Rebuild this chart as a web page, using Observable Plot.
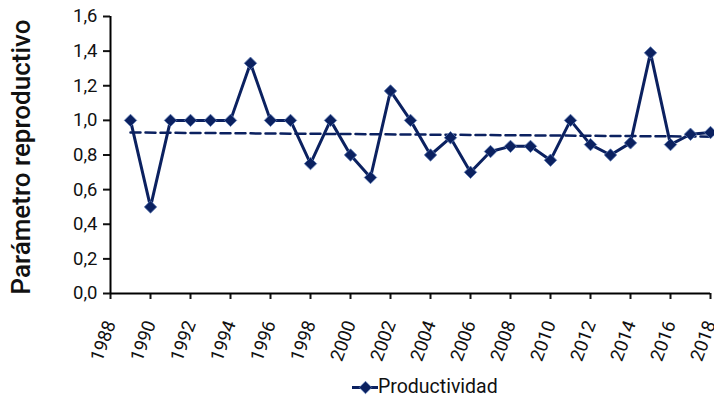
<!DOCTYPE html>
<html>
<head>
<meta charset="utf-8">
<script src="https://cdn.jsdelivr.net/npm/d3@7"></script>
<script src="https://cdn.jsdelivr.net/npm/@observablehq/plot@0.6"></script>
<style>
  body { margin: 0; background: #fff; font-family: Roboto, "DejaVu Sans", sans-serif; }
  #chart { position: relative; width: 714px; height: 399px; overflow: hidden; }
  #legend { position: absolute; left: 352px; top: 375px; display: flex; align-items: center; font-size: 19.5px; color: #111; }
</style>
</head>
<body>
<div id="chart"></div>
<script>
const years = [1989,1990,1991,1992,1993,1994,1995,1996,1997,1998,1999,2000,2001,2002,2003,2004,2005,2006,2007,2008,2009,2010,2011,2012,2013,2014,2015,2016,2017,2018];
const productividad = [1.0,0.5,1.0,1.0,1.0,1.0,1.33,1.0,1.0,0.75,1.0,0.8,0.67,1.17,1.0,0.8,0.9,0.7,0.82,0.85,0.85,0.77,1.0,0.86,0.8,0.87,1.39,0.86,0.92,0.93];
const xTicks = d3.range(1988, 2019, 2);
const yTicks = [0,0.2,0.4,0.6,0.8,1.0,1.2,1.4,1.6];
const seriesName = "Productividad";
const yTitle = "Parámetro reproductivo";

const navy = "#0b2160";
const data = years.map((y, i) => ({year: y, value: productividad[i]}));
const fmt = d => d3.format(".1f")(d).replace(".", ",");

const plot = Plot.plot({
  width: 714,
  height: 366,
  marginLeft: 110,
  marginRight: 4,
  marginTop: 16,
  marginBottom: 73,
  style: {fontFamily: "Roboto, 'DejaVu Sans', sans-serif", fontSize: "18.5px", color: "#111", overflow: "visible"},
  x: {domain: [1988, 2018], ticks: xTicks, tickFormat: d => String(d), tickRotate: -70, tickSize: 6, tickPadding: 22, label: null},
  y: {domain: [0, 1.6], ticks: yTicks, tickFormat: fmt, tickSize: 7, tickPadding: 6, label: null},
  marks: [
    Plot.ruleX([1988], {stroke: "#000", strokeWidth: 2}),
    Plot.ruleY([0], {stroke: "#000", strokeWidth: 2}),
    Plot.linearRegressionY(data, {x: "year", y: "value", ci: 0, stroke: navy, strokeWidth: 2.5, strokeDasharray: "10,5"}),
    Plot.line(data, {x: "year", y: "value", stroke: navy, strokeWidth: 3}),
    Plot.dot(data, {x: "year", y: "value", symbol: "diamond2", r: 5.6, fill: navy, stroke: "#5b79b3", strokeWidth: 0.8})
  ]
});
plot.querySelectorAll('[aria-label="y-axis tick"], [aria-label="x-axis tick"]').forEach(g => g.setAttribute("stroke-width", "2"));
plot.style.position = "absolute";
plot.style.left = "0";
plot.style.top = "0";
document.getElementById("chart").appendChild(plot);

// y-axis title
const title = document.createElement("div");
title.textContent = yTitle;
Object.assign(title.style, {position: "absolute", left: "21px", top: "157px", transform: "translate(-50%,-50%) rotate(-90deg)", whiteSpace: "nowrap", fontSize: "26px", fontWeight: "500", color: "#111"});
document.getElementById("chart").appendChild(title);

// legend
const legend = document.createElement("div");
legend.id = "legend";
const sw = Plot.plot({
  width: 26, height: 20, margin: 0,
  x: {domain: [0, 1], axis: null}, y: {domain: [0, 1], axis: null},
  marks: [
    Plot.line([[0,0.5],[1,0.5]], {stroke: navy, strokeWidth: 3}),
    Plot.dot([[0.5,0.5]], {symbol: "diamond2", r: 5.6, fill: navy, stroke: "#5b79b3", strokeWidth: 0.8})
  ]
});
legend.appendChild(sw);
const lt = document.createElement("span");
lt.textContent = seriesName;
legend.appendChild(lt);
document.getElementById("chart").appendChild(legend);
</script>
</body>
</html>
